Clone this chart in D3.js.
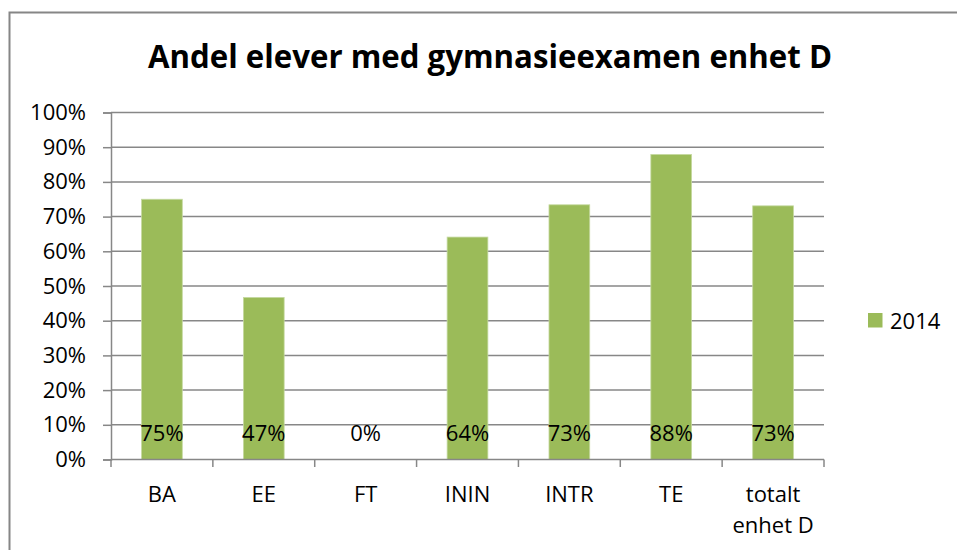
<!DOCTYPE html>
<html>
<head>
<meta charset="utf-8">
<script src="https://cdn.jsdelivr.net/npm/d3@7"></script>
<style>
  body { margin: 0; background: #fff; }
  text { font-family: "Open Sans", "Liberation Sans", sans-serif; fill: #000; }
</style>
</head>
<body>
<div id="chart"></div>
<script>
var categories = ["BA", "EE", "FT", "ININ", "INTR", "TE", "totalt enhet D"];
var values2014 = [0.75, 0.467, 0, 0.641, 0.734, 0.879, 0.731];
var valueLabels = ["75%", "47%", "0%", "64%", "73%", "88%", "73%"];
var yTicks = [0, 0.1, 0.2, 0.3, 0.4, 0.5, 0.6, 0.7, 0.8, 0.9, 1.0];
var seriesName = "2014";

var Chart = (function() {

    var width = 957,
        height = 550,
        plotLeft = 111, plotRight = 824, plotTop = 112.5, plotBottom = 459.5,
        green = "#9bbb59",
        grid = "#878787",
        fontSize = 22;

    var svg = d3.select("#chart").append("svg")
        .attr("width", width)
        .attr("height", height);

    // chart frame
    svg.append("rect")
        .attr("x", 9.5).attr("y", 12.5)
        .attr("width", 960).attr("height", 560)
        .attr("fill", "#fff")
        .attr("stroke", "#868686")
        .attr("stroke-width", 2);

    svg.append("text")
        .attr("x", 490).attr("y", 68)
        .attr("text-anchor", "middle")
        .attr("font-weight", "bold")
        .attr("font-size", 32)
        .attr("textLength", 684)
        .attr("lengthAdjust", "spacingAndGlyphs")
        .text("Andel elever med gymnasieexamen enhet D");

    var x = d3.scaleBand().domain(categories).range([plotLeft, plotRight]).paddingInner(0.6).paddingOuter(0.3);
    var y = d3.scaleLinear().domain([0, 1]).range([plotBottom, plotTop]);

    // gridlines
    svg.append("g").selectAll("line")
        .data(yTicks.filter(function(d) { return d > 0; }))
        .enter().append("line")
        .attr("x1", plotLeft).attr("x2", plotRight)
        .attr("y1", function(d) { return y(d); })
        .attr("y2", function(d) { return y(d); })
        .attr("stroke", grid).attr("stroke-width", 1.5);

    // bars
    svg.append("g").selectAll("rect")
        .data(values2014)
        .enter().append("rect")
        .attr("x", function(d, i) { return x(categories[i]); })
        .attr("width", x.bandwidth())
        .attr("y", function(d) { return y(d); })
        .attr("height", function(d) { return y(0) - y(d); })
        .attr("fill", green)
        .attr("stroke", function(d) { return d > 0 ? "#c5d9a0" : "none"; })
        .attr("stroke-width", 0.8);

    // y axis
    var yAxis = svg.append("g")
        .attr("transform", "translate(" + plotLeft + ",0)")
        .call(d3.axisLeft(y).tickValues(yTicks).tickFormat(d3.format(".0%")).tickSize(8).tickPadding(17));
    yAxis.select(".domain").attr("stroke", grid).attr("stroke-width", 1.5);
    yAxis.selectAll(".tick line").attr("stroke", grid).attr("stroke-width", 1.5);
    yAxis.selectAll(".tick text")
        .attr("font-size", fontSize)
        .attr("font-family", "Open Sans, sans-serif")
        .attr("fill", "#000");

    // x axis line, tick marks at category boundaries
    var bounds = d3.range(categories.length + 1).map(function(i) {
        return plotLeft + i * (plotRight - plotLeft) / categories.length;
    });
    svg.append("line")
        .attr("x1", plotLeft).attr("x2", plotRight)
        .attr("y1", plotBottom).attr("y2", plotBottom)
        .attr("stroke", grid).attr("stroke-width", 1.5);
    svg.append("g").selectAll("line")
        .data(bounds)
        .enter().append("line")
        .attr("x1", function(d) { return d; }).attr("x2", function(d) { return d; })
        .attr("y1", plotBottom).attr("y2", plotBottom + 7.5)
        .attr("stroke", grid).attr("stroke-width", 1.5);

    // category labels
    svg.append("g").selectAll("text")
        .data(categories)
        .enter().append("text")
        .attr("text-anchor", "middle")
        .attr("font-size", fontSize)
        .attr("y", 501.5)
        .each(function(d) {
            var words = d === "totalt enhet D" ? ["totalt", "enhet D"] : [d];
            var t = d3.select(this);
            var cx = x(d) + x.bandwidth() / 2;
            words.forEach(function(w, k) {
                t.append("tspan").attr("x", cx).attr("dy", k === 0 ? 0 : 31).text(w);
            });
        });

    // data labels (inside base)
    svg.append("g").selectAll("text")
        .data(valueLabels)
        .enter().append("text")
        .attr("text-anchor", "middle")
        .attr("font-size", fontSize)
        .attr("x", function(d, i) { return x(categories[i]) + x.bandwidth() / 2; })
        .attr("y", 441)
        .text(function(d) { return d; });

    // legend
    svg.append("rect")
        .attr("x", 868).attr("y", 313)
        .attr("width", 14.5).attr("height", 14.5)
        .attr("fill", green);
    svg.append("text")
        .attr("x", 890).attr("y", 328.5)
        .attr("font-size", fontSize)
        .text(seriesName);

})();
</script>
</body>
</html>
